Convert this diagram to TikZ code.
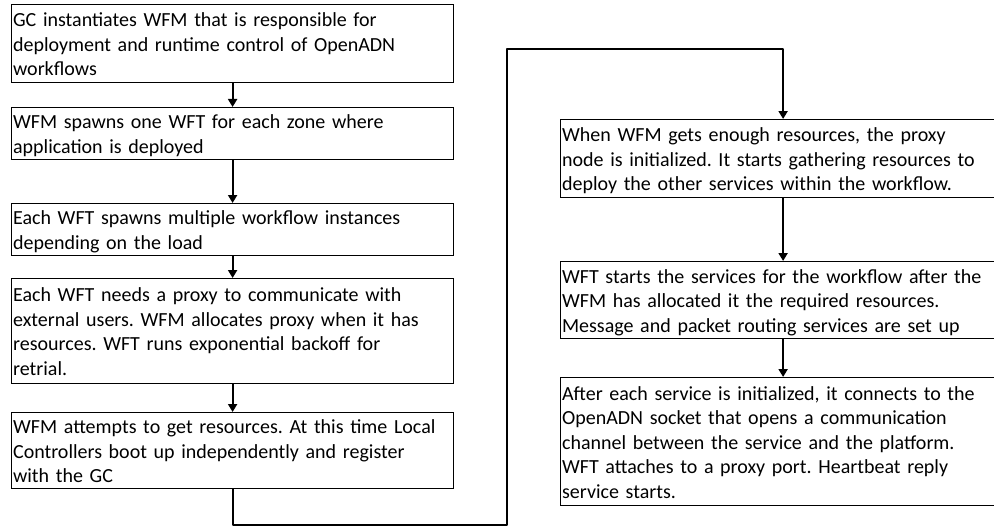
\documentclass[tikz,border=0pt]{standalone}
\usepackage{fontspec}
\setmainfont{Carlito}
\usetikzlibrary{arrows.meta}
\frenchspacing
\begin{document}
\begin{tikzpicture}[x=1pt,y=-1pt,
  box/.style={draw, line width=1.2pt, anchor=north west, align=left,
    inner xsep=1.5pt, inner ysep=0pt,
    font=\fontsize{20}{24.5}\selectfont,
    execute at begin node={\rule{0pt}{21pt}},
    execute at end node={\rule[-6pt]{0pt}{6pt}}},
  lbox/.style={box, text width=439pt},
  rbox/.style={box, text width=442pt},
  flow/.style={line width=2pt, -{Triangle[length=8pt,width=9pt]}, line join=round}]
\useasboundingbox (0,0) rectangle (994,527);
\clip (0,0) rectangle (994,527);

\node[lbox, minimum height=78pt] (b1) at (11,4)
  {GC instantiates WFM that is responsible for\\deployment and runtime control of OpenADN\\workflows};
\node[lbox, minimum height=50pt] (b2) at (11,107)
  {WFM spawns one WFT for each zone where\\application is deployed};
\node[lbox, minimum height=52pt] (b3) at (11,203)
  {Each WFT spawns multiple workflow instances\\depending on the load};
\node[lbox, minimum height=105pt] (b4) at (11,278)
  {Each WFT needs a proxy to communicate with\\external users. WFM allocates proxy when it has\\resources. WFT runs exponential backoff for\\retrial.};
\node[lbox, minimum height=76pt] (b5) at (11,412)
  {WFM attempts to get resources. At this time Local\\Controllers boot up independently and register\\with the GC};

\node[rbox, minimum height=78pt] (b6) at (560,119)
  {When WFM gets enough resources, the proxy\\node is initialized. It starts gathering resources to\\deploy the other services within the workflow.};
\node[rbox, minimum height=77pt] (b7) at (560,261)
  {WFT starts the services for the workflow after the\\WFM has allocated it the required resources.\\Message and packet routing services are set up};
\node[rbox, minimum height=128pt] (b8) at (560,377)
  {After each service is initialized, it connects to the\\OpenADN socket that opens a communication\\channel between the service and the platform.\\WFT attaches to a proxy port. Heartbeat reply\\service starts.};

\draw[flow] (b1.south) -- (b2.north);
\draw[flow] (b2.south) -- (b3.north);
\draw[flow] (b3.south) -- (b4.north);
\draw[flow] (b4.south) -- (b5.north);

\coordinate (c1) at (507,525);
\coordinate (c2) at (507,49);
\draw[flow] (b5.south) |- (c1) -- (c2) -| (b6.north);

\draw[flow] (b6.south) -- (b7.north);
\draw[flow] (b7.south) -- (b8.north);
\end{tikzpicture}
\end{document}
